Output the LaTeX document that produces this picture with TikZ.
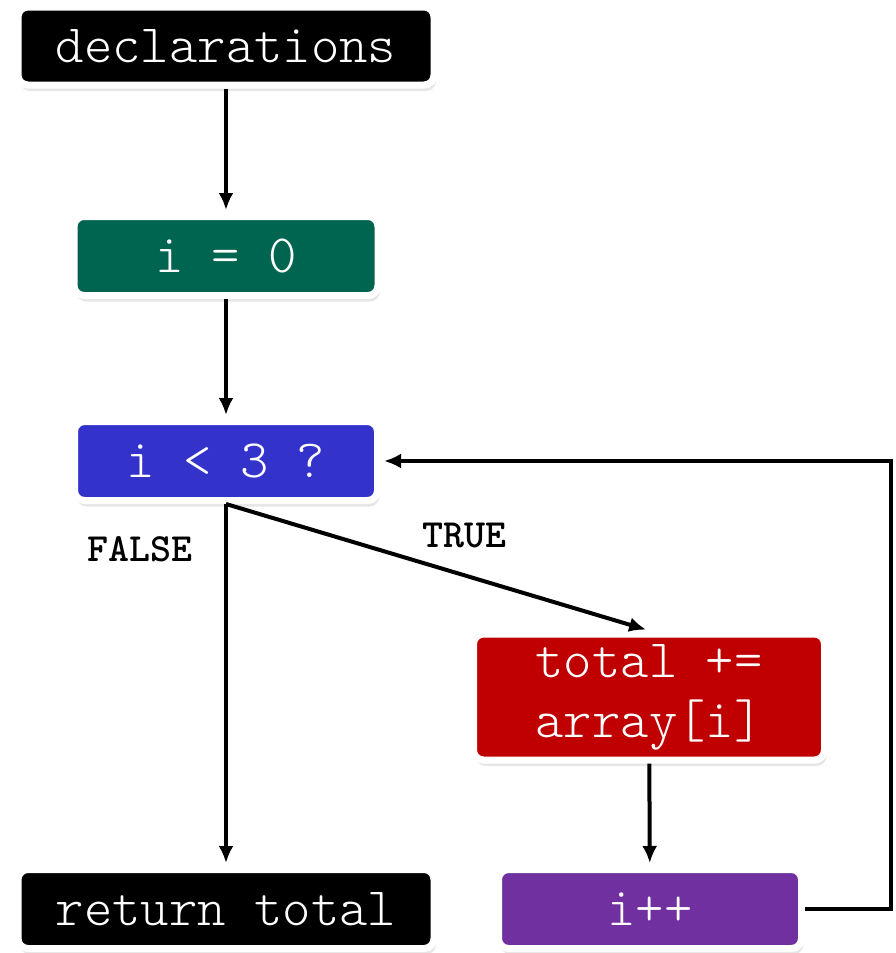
\documentclass[tikz,border=0pt]{standalone}
\usepackage{fontspec}
\setmonofont{Latin Modern Mono Light}
\usepackage{tikz}
\usetikzlibrary{arrows.meta, positioning, shadows}
\definecolor{cgreen}{RGB}{0, 101, 80}
\definecolor{cblue}{RGB}{51, 51, 204}
\definecolor{cred}{RGB}{192, 0, 0}
\definecolor{cpurple}{RGB}{112, 48, 160}

\begin{document}
\begin{tikzpicture}[x=1pt, y=-1pt,
  box/.style={draw=white, line width=7pt, rounded corners=10pt, text=white,
    font=\ttfamily\fontsize{54}{60}\selectfont, align=center, inner sep=0pt,
    minimum height=79pt,
    drop shadow={shadow xshift=2pt, shadow yshift=-6pt, opacity=0.2}},
  arr/.style={-{Latex[length=17pt, width=15pt]}, line width=4pt, shorten >=3pt},
  lbl/.style={font=\ttfamily\bfseries\fontsize{40}{44}\selectfont}]
  \useasboundingbox (0,0) rectangle (895,953);
  % boxes
  \node[box, fill=black, minimum width=416pt, minimum height=78pt] (decl) at (226,46) {declarations};
  \node[box, fill=cgreen, minimum width=304pt] (init) at (226,256) {i = 0};
  \node[box, fill=cblue, minimum width=303pt] (cond) at (226,461) {i < 3 ?};
  \node[box, fill=cred, minimum width=351pt, minimum height=126pt] (body) at (649,697) {total +=\\array[i]};
  \node[box, fill=cpurple, minimum width=303pt] (inc) at (650,909) {i++};
  \node[box, fill=black, minimum width=416pt] (ret) at (226,909) {return total};
  % labels
  \node[lbl] (false) at (140,549) {FALSE};
  \node[lbl] (true) at (464,535) {TRUE};
  % connectors
  \draw[arr] (decl) -- (init);
  \draw[arr] (init) -- (cond);
  \draw[arr] (cond.south) -- (ret);
  \draw[arr] (cond.south) -- (body.north);
  \draw[arr] (body) -- (inc);
  \draw[arr] (inc.east) -- ++(86,0) |- (cond.east);
\end{tikzpicture}
\end{document}
